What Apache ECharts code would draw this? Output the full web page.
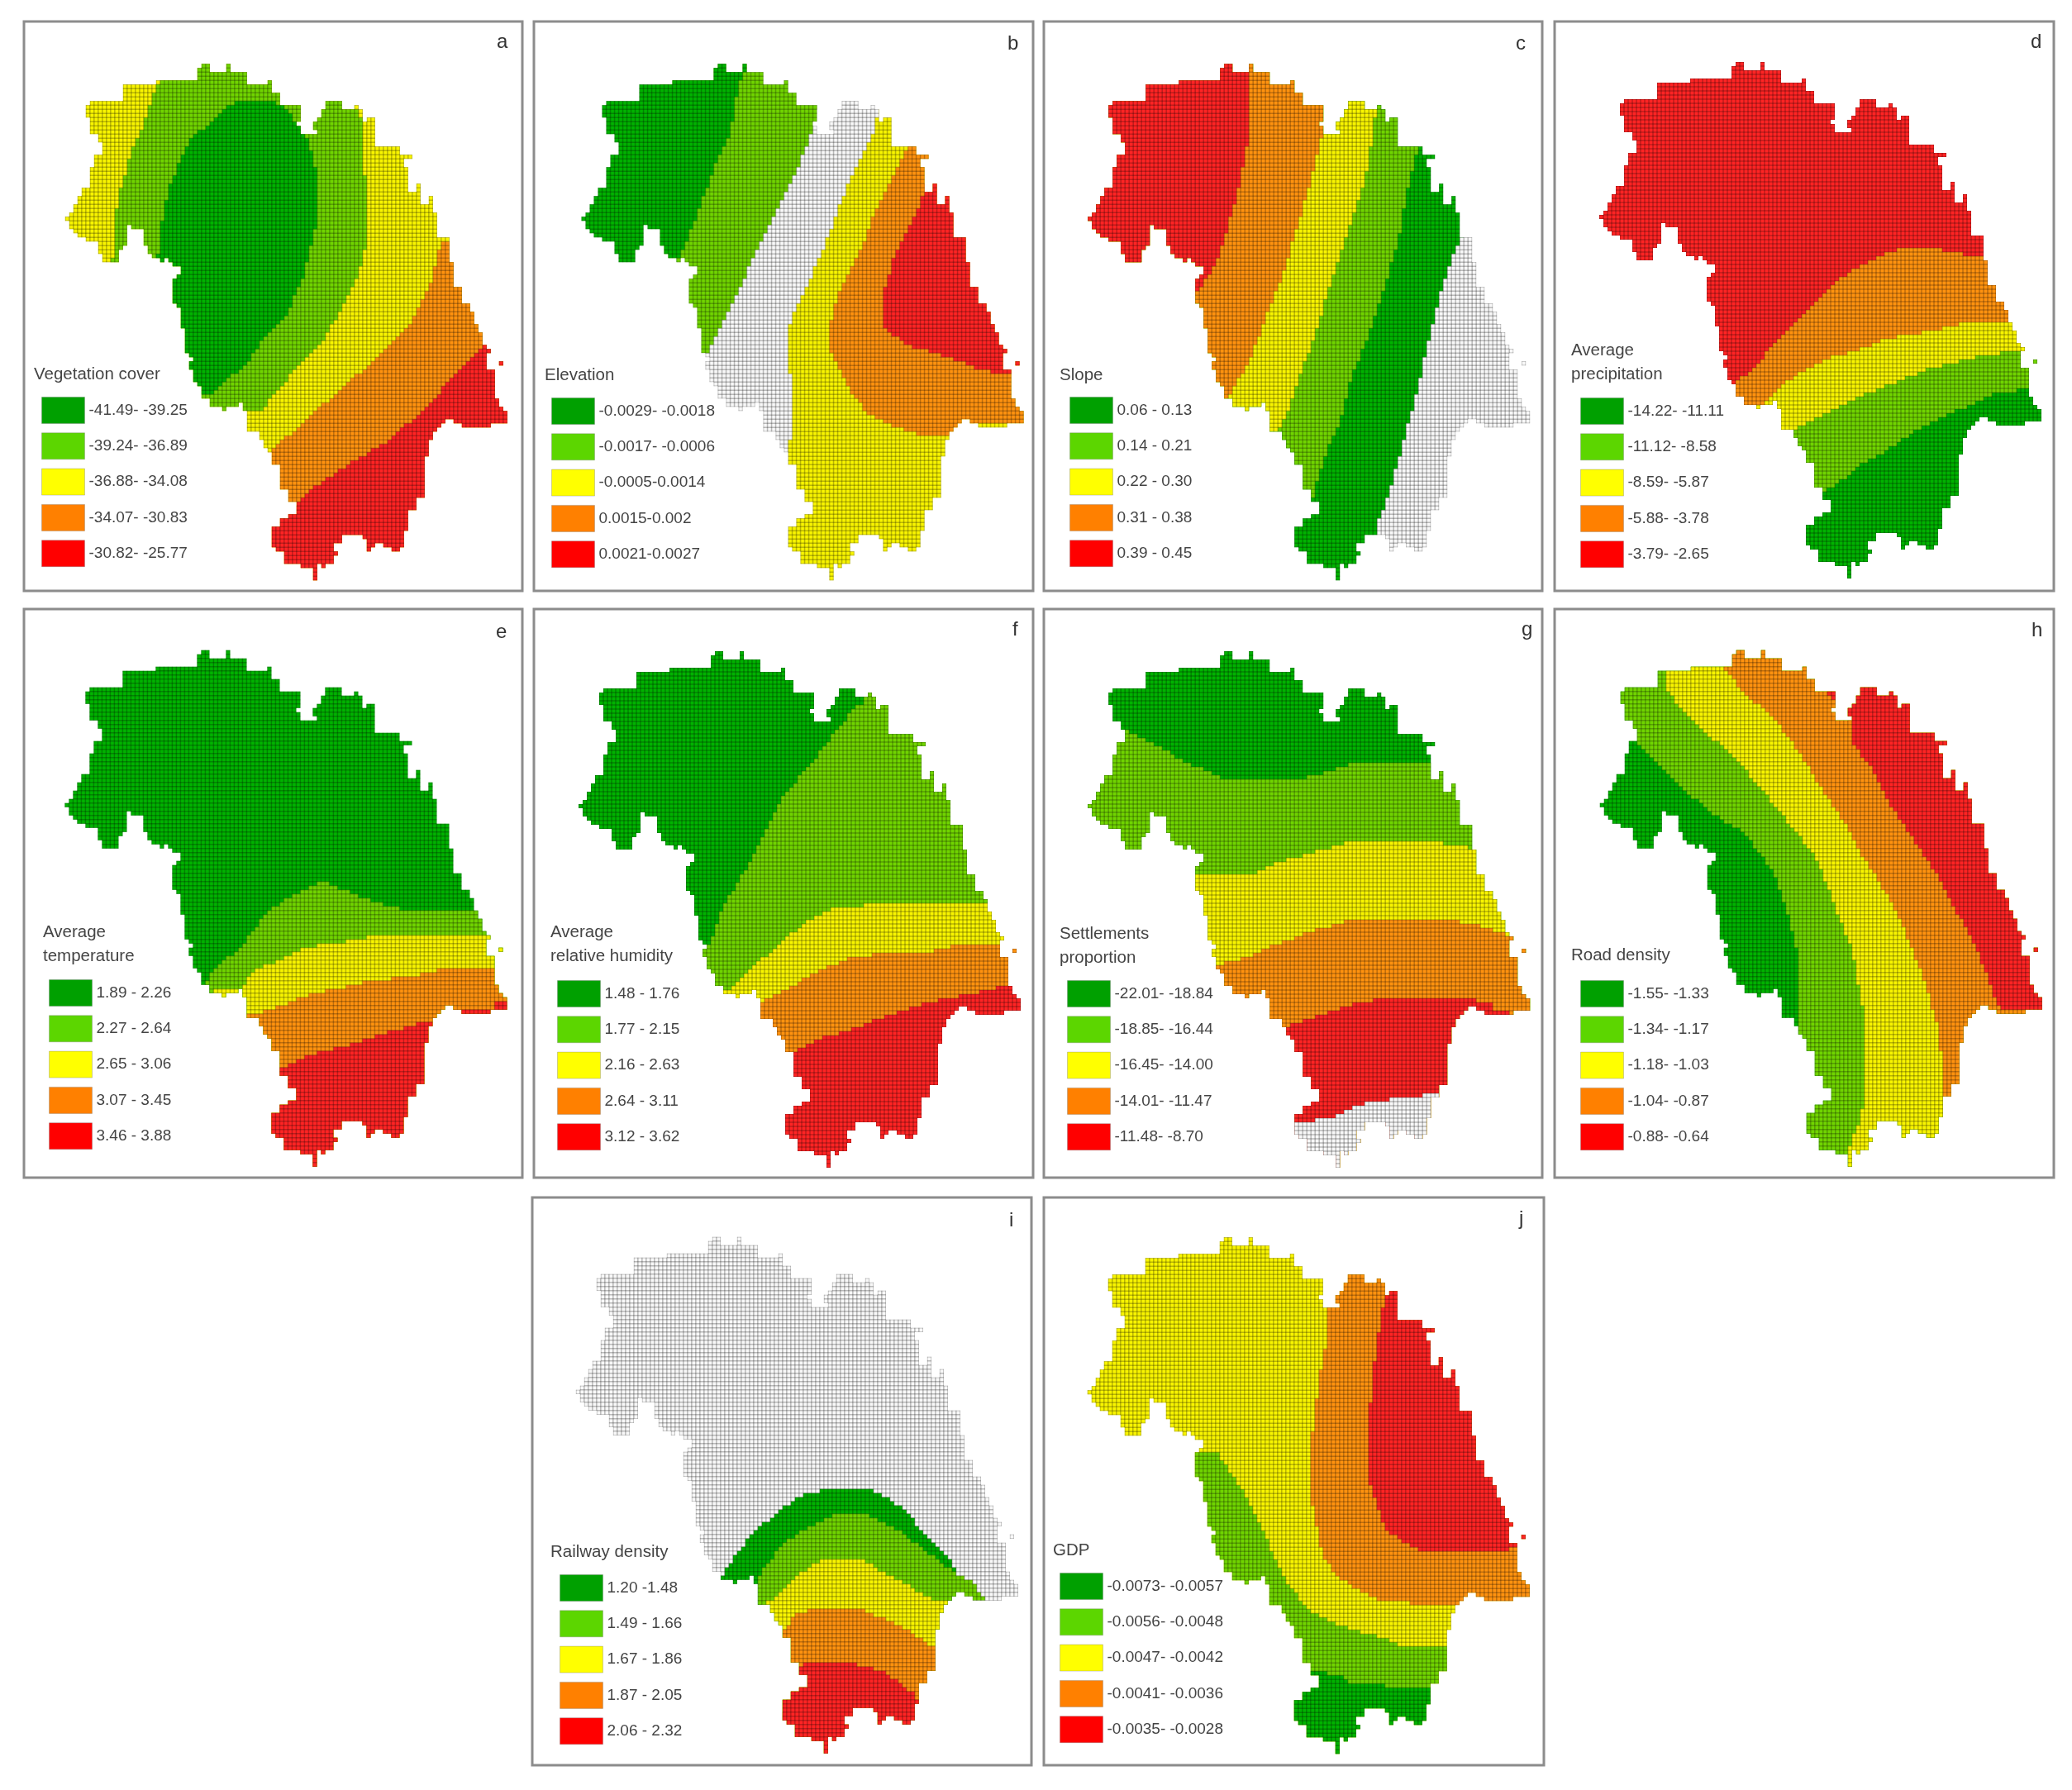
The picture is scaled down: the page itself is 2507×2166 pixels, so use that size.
<!DOCTYPE html>
<html>
<head>
<meta charset="utf-8">
<title>Panels a-j</title>
<style>
  html, body { margin: 0; padding: 0; background: #fff; }
  #chart { width: 2507px; height: 2166px; filter: blur(0.7px); }
</style>
<script src="https://cdn.jsdelivr.net/npm/echarts@6/dist/echarts.min.js"></script>
</head>
<body>
<div id="chart"></div>
<script>
// class order is the legend order: dark green .. red, then the grey "no label" class
const CLASS_COLORS = ["#00a000", "#5cd600", "#ffff00", "#ff8000", "#ff0000", "#f8f8f8"];
// cell fill on the map itself, before the cell lines darken it
const MAP_FILLS = ["#00b200", "#70d400", "#f8f400", "#ff920f", "#ff2424", "#f8f8f8"];
const GREY = 5;

const PANEL_LETTERS = ["a", "b", "c", "d", "e", "f", "g", "h", "i", "j"];
const PANEL_TITLES = [
  "Vegetation cover", "Elevation", "Slope", "Average\nprecipitation", "Average\ntemperature",
  "Average\nrelative humidity", "Settlements\nproportion", "Road density", "Railway density", "GDP"
];
const LEGEND_LABELS = [
  ["-41.49- -39.25", "-39.24- -36.89", "-36.88- -34.08", "-34.07- -30.83", "-30.82- -25.77"],
  ["-0.0029- -0.0018", "-0.0017- -0.0006", "-0.0005-0.0014", "0.0015-0.002", "0.0021-0.0027"],
  ["0.06 - 0.13", "0.14 - 0.21", "0.22 - 0.30", "0.31 - 0.38", "0.39 - 0.45"],
  ["-14.22- -11.11", "-11.12- -8.58", "-8.59- -5.87", "-5.88- -3.78", "-3.79- -2.65"],
  ["1.89 - 2.26", "2.27 - 2.64", "2.65 - 3.06", "3.07 - 3.45", "3.46 - 3.88"],
  ["1.48 - 1.76", "1.77 - 2.15", "2.16 - 2.63", "2.64 - 3.11", "3.12 - 3.62"],
  ["-22.01- -18.84", "-18.85- -16.44", "-16.45- -14.00", "-14.01- -11.47", "-11.48- -8.70"],
  ["-1.55- -1.33", "-1.34- -1.17", "-1.18- -1.03", "-1.04- -0.87", "-0.88- -0.64"],
  ["1.20 -1.48", "1.49 - 1.66", "1.67 - 1.86", "1.87 - 2.05", "2.06 - 2.32"],
  ["-0.0073- -0.0057", "-0.0056- -0.0048", "-0.0047- -0.0042", "-0.0041- -0.0036", "-0.0035- -0.0028"]
];

// map boundary; map units are 1568 across the crop of each panel
const MAP_OUTLINE = [
  [147,543],[160,528],[172,510],[185,490],[197,462],[225,450],[228,420],[240,375],[265,375],[265,350],[250,320],[228,318],
  [222,275],[210,270],[213,245],[228,232],[330,232],[330,187],[435,187],[435,175],[553,175],[553,145],[567,130],[595,130],
  [595,157],[642,157],[642,130],[660,130],[660,157],[712,157],[712,185],[775,185],[775,172],[790,172],[790,215],[815,215],
  [815,243],[868,243],[868,290],[858,290],[858,300],[872,318],[920,318],[920,305],[907,305],[907,290],[925,275],[937,262],
  [948,262],[935,250],[945,232],[1000,232],[1000,258],[1040,258],[1040,245],[1052,245],[1052,258],[1065,262],[1065,290],
  [1078,290],[1078,275],[1105,275],[1105,348],[1170,348],[1170,375],[1210,375],[1210,390],[1185,390],[1185,405],[1198,405],
  [1198,478],[1225,478],[1225,450],[1237,450],[1237,508],[1262,508],[1262,490],[1277,490],[1277,535],[1290,535],[1290,595],
  [1315,595],[1328,608],[1328,665],[1340,665],[1340,725],[1367,725],[1367,768],[1393,768],[1393,800],[1405,800],[1405,828],
  [1420,850],[1433,855],[1433,880],[1447,885],[1447,897],[1458,897],[1458,910],
  // the single detached cell, joined by a zero-width bridge
  [1480,910],[1480,928],[1475,928],[1475,943],[1487,943],[1487,928],[1480,928],[1480,910],[1458,910],
  [1445,915],[1445,955],[1472,955],[1472,1030],[1485,1050],[1500,1060],[1500,1088],[1460,1090],[1460,1103],[1367,1103],
  [1367,1090],[1345,1078],[1328,1078],[1315,1090],[1290,1118],[1265,1145],[1265,1178],[1238,1195],[1250,1205],[1250,1290],
  [1225,1290],[1225,1320],[1197,1320],[1197,1380],[1185,1380],[1185,1420],[1170,1420],[1170,1435],[1157,1435],[1157,1452],
  [1145,1452],[1145,1425],[1130,1410],[1105,1410],[1105,1425],[1090,1425],[1090,1440],[1078,1440],[1078,1410],[1065,1395],
  [1000,1395],[1000,1408],[975,1408],[975,1438],[987,1440],[987,1452],[975,1455],[975,1468],[948,1468],[948,1482],[935,1482],
  [935,1470],[922,1470],[922,1512],[908,1512],[908,1482],[870,1482],[870,1468],[817,1468],[817,1438],[800,1425],[790,1410],
  [790,1365],[815,1365],[815,1352],[830,1340],[855,1320],[855,1305],[830,1290],[830,1275],[815,1275],[805,1245],[805,1200],
  [778,1200],[778,1175],[765,1150],[750,1118],[712,1118],[712,1060],[698,1060],[698,1035],[685,1045],[648,1045],[648,1060],
  [632,1060],[632,1045],[595,1045],[595,1030],[568,1030],[568,1000],[553,988],[542,988],[542,945],[528,942],[528,930],[540,928],
  [528,905],[517,905],[517,840],[503,840],[503,782],[490,782],[490,768],[477,768],[477,712],[490,700],[500,695],[500,672],
  [478,668],[462,668],[462,655],[448,665],[448,655],[435,650],[410,625],[395,610],[395,578],[355,578],[355,565],[345,568],
  [345,605],[330,632],[318,640],[318,665],[267,665],[267,640],[253,632],[253,608],[213,608],[213,595],[187,595],[187,582],
  [172,570],[160,558]
];

const WHOLE_MAP = [[0,0],[1568,0],[1568,1568],[0,1568]];

// zones of each panel, painted in order, each one trimmed to the map boundary
const ZONES_A = [
  [2, WHOLE_MAP],
  [1, [[445,100],[445,180],[415,240],[385,300],[350,380],[315,490],[300,560],[300,640],[290,680],[400,800],[600,1100],[698,1070],[745,1060],[860,945],[930,880],[1010,770],[1050,690],[1075,610],[1078,500],[1065,370],[1060,290],[1040,240],[1040,100]]],
  [0, [[685,235],[775,235],[815,255],[860,300],[890,345],[905,400],[918,450],[918,570],[900,640],[885,700],[860,750],[830,810],[760,880],[710,940],[640,990],[605,1025],[570,1025],[500,1000],[450,800],[430,650],[435,620],[440,580],[450,520],[470,470],[490,410],[530,340],[585,290],[645,250]]],
  [3, [[760,1190],[900,1075],[1000,1000],[1100,925],[1200,830],[1265,730],[1300,615],[1400,600],[1568,800],[1568,1568],[760,1568]]],
  [4, [[700,1320],[840,1320],[900,1280],[1010,1205],[1130,1140],[1250,1055],[1340,965],[1432,890],[1568,880],[1568,1568],[700,1568]]]
];
const ZONES_B = [
  [GREY, WHOLE_MAP],
  [1, [[670,0],[900,0],[900,250],[868,310],[835,400],[780,490],[745,555],[710,620],[670,700],[630,770],[580,850],[552,905],[500,905],[400,700],[400,0]]],
  [0, [[670,0],[670,160],[655,165],[645,200],[610,330],[565,430],[530,510],[490,600],[458,640],[450,665],[400,700],[0,700],[0,0]]],
  [2, [[1075,260],[1040,350],[1000,430],[950,540],[905,620],[865,700],[830,770],[800,820],[790,860],[790,950],[802,1000],[802,1135],[788,1150],[788,1568],[1568,1568],[1568,260]]],
  [3, [[1158,340],[1158,355],[1130,400],[1105,460],[1060,540],[1030,600],[985,690],[945,770],[930,800],[920,850],[920,900],[945,960],[990,1030],[1030,1075],[1120,1110],[1200,1135],[1300,1135],[1360,1100],[1568,1100],[1568,340]]],
  [4, [[1225,440],[1212,485],[1195,510],[1150,600],[1115,680],[1100,720],[1090,760],[1090,840],[1150,885],[1230,905],[1310,930],[1380,950],[1450,965],[1568,965],[1568,440]]]
];
const ZONES_C = [
  [GREY, WHOLE_MAP],
  [0, [[1300,0],[1300,590],[1280,630],[1250,700],[1230,770],[1205,860],[1180,950],[1150,1050],[1130,1120],[1105,1210],[1080,1290],[1045,1370],[1040,1395],[1000,1568],[0,1568],[0,0]]],
  [1, [[1175,0],[1175,350],[1155,400],[1130,490],[1110,570],[1085,660],[1050,770],[1010,870],[970,980],[930,1100],[890,1180],[850,1270],[845,1300],[700,1300],[0,1300],[0,0]]],
  [2, [[1040,0],[1040,260],[1030,310],[1010,400],[985,490],[955,590],[930,660],[890,760],[850,870],[810,960],[770,1050],[735,1115],[720,1120],[600,1200],[0,1200],[0,0]]],
  [3, [[870,0],[870,250],[873,320],[855,400],[830,490],[790,600],[750,710],[700,820],[660,910],[625,980],[585,1030],[560,1060],[0,1060],[0,0]]],
  [4, [[640,0],[650,200],[648,340],[625,450],[600,540],[555,640],[520,710],[490,750],[478,760],[300,760],[0,760],[0,0]]]
];
const ZONES_D = [
  [4, WHOLE_MAP],
  [3, [[500,995],[555,995],[620,950],[680,880],[720,845],[780,790],[860,730],[920,680],[1000,650],[1080,625],[1170,625],[1220,640],[1300,650],[1340,665],[1568,665],[1568,1568],[500,1568]]],
  [2, [[600,1060],[650,1045],[690,1000],[760,960],[830,930],[920,900],[1020,875],[1160,845],[1270,830],[1400,825],[1410,810],[1568,810],[1568,1568],[600,1568]]],
  [1, [[700,1120],[750,1118],[840,1070],[930,1030],[1040,990],[1160,950],[1260,925],[1400,905],[1455,900],[1568,895],[1568,1568],[700,1568]]],
  [0, [[700,1280],[820,1280],[860,1265],[940,1220],[1030,1170],[1140,1105],[1250,1060],[1370,1015],[1472,1000],[1568,995],[1568,1568],[700,1568]]]
];
const ZONES_E = [
  [0, WHOLE_MAP],
  [1, [[500,1020],[565,1020],[620,970],[690,910],[760,840],[820,790],[870,765],[930,750],[1000,765],[1100,800],[1200,822],[1400,825],[1568,825],[1568,1568],[500,1568]]],
  [2, [[600,1040],[685,1030],[730,985],[800,955],[870,925],[940,910],[1060,905],[1070,895],[1250,895],[1568,895],[1568,1568],[600,1568]]],
  [3, [[650,1110],[735,1105],[800,1075],[860,1055],[970,1030],[1080,1015],[1200,1000],[1310,985],[1568,985],[1568,1568],[650,1568]]],
  [4, [[700,1250],[815,1240],[880,1215],[1000,1190],[1110,1155],[1200,1130],[1290,1110],[1340,1090],[1450,1088],[1465,1072],[1568,1072],[1568,1568],[700,1568]]]
];
const ZONES_F = [
  [0, WHOLE_MAP],
  [1, [[1030,100],[1568,100],[1568,1568],[500,1568],[500,925],[540,920],[565,870],[600,810],[660,720],[720,610],[790,510],[860,430],[930,345],[1000,280],[1030,260]]],
  [2, [[590,1568],[590,1035],[620,1022],[680,975],[760,920],[850,850],[940,815],[1100,810],[1568,810],[1568,1568]]],
  [3, [[650,1080],[705,1075],[750,1045],[820,1020],[880,985],[980,955],[1100,940],[1200,935],[1320,920],[1568,915],[1568,1568],[650,1568]]],
  [4, [[700,1205],[805,1205],[870,1175],[960,1145],[1100,1105],[1220,1075],[1340,1045],[1440,1030],[1568,1030],[1568,1568],[700,1568]]]
];
const ZONES_G = [
  [0, WHOLE_MAP],
  [1, [[0,345],[255,345],[290,350],[345,380],[410,410],[480,440],[570,480],[800,480],[890,450],[960,435],[1200,435],[1568,435],[1568,1568],[0,1568]]],
  [2, [[400,725],[660,725],[730,695],[830,670],[950,640],[1200,635],[1280,655],[1340,665],[1568,665],[1568,1568],[400,1568]]],
  [3, [[500,970],[545,970],[640,945],[730,915],[830,885],[950,855],[1030,845],[1250,845],[1330,860],[1440,890],[1568,895],[1568,1568],[500,1568]]],
  [4, [[700,1135],[755,1135],[860,1105],[980,1075],[1060,1060],[1330,1060],[1350,1072],[1390,1072],[1395,1090],[1450,1090],[1460,1200],[1460,1568],[700,1568]]],
  [GREY, [[700,1395],[790,1395],[900,1375],[960,1350],[1100,1320],[1225,1310],[1568,1300],[1568,1568],[700,1568]]]
];
const ZONES_H = [
  [0, WHOLE_MAP],
  [1, [[0,0],[1568,0],[1568,1568],[755,1568],[755,1130],[755,950],[740,850],[680,720],[590,620],[500,560],[400,480],[330,425],[265,375],[0,375]]],
  [2, [[360,0],[1568,0],[1568,1568],[910,1568],[910,1470],[925,1430],[945,1380],[965,1320],[965,1110],[950,1050],[920,930],[880,810],[820,690],[750,600],[650,490],[560,410],[470,340],[390,270],[360,225]]],
  [3, [[530,0],[1568,0],[1568,1568],[1200,1568],[1200,1250],[1185,1150],[1175,1100],[1140,990],[1090,880],[1030,770],[960,680],[900,580],[830,480],[760,400],[680,310],[600,235],[530,170]]],
  [4, [[855,0],[1568,0],[1568,1090],[1385,1090],[1360,1030],[1320,950],[1260,840],[1180,720],[1100,620],[1030,520],[980,430],[930,370],[925,320],[875,265],[855,240]]]
];
const ZONES_I = [
  [GREY, WHOLE_MAP],
  [0, [[590,1568],[590,1035],[640,970],[690,915],[745,870],[820,825],[900,795],[1030,795],[1095,825],[1150,870],[1210,925],[1280,990],[1310,1020],[1310,1568]]],
  [1, [[690,1568],[695,1035],[730,1000],[760,955],[830,915],[880,885],[930,868],[1020,868],[1080,885],[1130,915],[1200,965],[1250,990],[1310,1030],[1345,1045],[1390,1097],[1350,1097],[1320,1568]]],
  [2, [[700,1568],[710,1110],[760,1070],[820,1030],[890,985],[1020,985],[1060,1010],[1130,1040],[1200,1085],[1290,1105],[1320,1105],[1320,1568]]],
  [3, [[700,1568],[770,1170],[820,1130],[860,1115],[1020,1115],[1070,1145],[1130,1165],[1210,1210],[1245,1235],[1300,1235],[1300,1568]]],
  [4, [[700,1568],[820,1275],[850,1260],[980,1260],[1030,1275],[1075,1290],[1130,1320],[1180,1350],[1190,1380],[1300,1380],[1300,1568]]]
];
const ZONES_J = [
  [2, WHOLE_MAP],
  [3, [[890,0],[1568,0],[1568,1110],[1300,1110],[1150,1110],[1145,1095],[1060,1095],[1010,1080],[960,1055],[910,1020],[875,980],[860,920],[848,870],[833,820],[833,680],[847,590],[860,510],[875,430],[885,400],[885,310],[890,200]]],
  [4, [[1075,0],[1568,0],[1568,950],[1450,950],[1430,965],[1190,965],[1130,945],[1070,900],[1040,830],[1018,770],[1018,610],[1030,500],[1045,400],[1055,340],[1065,280],[1075,270]]],
  [1, [[400,705],[545,705],[600,770],[660,850],[710,960],[760,1050],[830,1120],[930,1170],[1000,1185],[1060,1200],[1105,1215],[1253,1215],[1568,1215],[1568,1568],[400,1568]]],
  [0, [[700,1290],[845,1290],[925,1300],[950,1315],[1055,1315],[1060,1330],[1200,1330],[1568,1330],[1568,1568],[700,1568]]]
];
const PANEL_ZONES = [ZONES_A, ZONES_B, ZONES_C, ZONES_D, ZONES_E, ZONES_F, ZONES_G, ZONES_H, ZONES_I, ZONES_J];

// layout, in page pixels
const FRAMES = [
  [29,26,632,715], [646,26,1250,715], [1263,26,1866,715], [1881,26,2485,715],
  [29,737,632,1425], [646,737,1250,1425], [1263,737,1866,1425], [1881,737,2485,1425],
  [644,1449,1248,2136], [1263,1449,1868,2136]
];
const CROPS = [
  [20,15], [640,15], [1255,15], [1875,15], [20,728], [640,728], [1255,728], [1875,728], [640,1440], [1255,1440]
];
const MAP_SHIFT = [[-3,5],[9,5],[3,5],[0,0],[-4,-3],[0,0],[3,0],[2,-3],[-8,-7],[2,-6]];
const LEGEND_AT = [
  [50,480],[667,481],[1294,480],[1912,481],[59,1185],[674,1186],[1291,1186],[1912,1186],[677,1905],[1282,1903]
];
const TITLE_AT = [
  [41,454],[659,455],[1282,455],[1901,425],[52,1129],[666,1129],[1282,1131],[1901,1157],[666,1879],[1274,1877]
];
const LETTER_AT = [
  [601,53],[1219,55],[1834,55],[2457,53],[600,767],[1225,764],[1841,764],[2458,765],[1221,1479],[1838,1477]
];

const SCALE_X = 1568 / 620;
const SCALE_Y = 1568 / 710;
const CELL_W = 5 * SCALE_X;
const CELL_H = 5 * SCALE_Y;
const FONT = '"Liberation Sans", sans-serif';

// snap to raster cells and turn slanted edges into stairs, as the source grid map shows them
function toRaster(points) {
  const cells = points.map(p => [Math.round(p[0] / CELL_W), Math.round(p[1] / CELL_H)]);
  const out = [];
  cells.forEach((c, i) => {
    const prev = cells[(i + cells.length - 1) % cells.length];
    const dx = c[0] - prev[0];
    const dy = c[1] - prev[1];
    const n = Math.max(Math.abs(dx), Math.abs(dy));
    let py = prev[1];
    for (let s = 1; s <= n; s++) {
      const x = Math.round(prev[0] + (dx * s) / n);
      const y = Math.round(prev[1] + (dy * s) / n);
      out.push([x * CELL_W, py * CELL_H]);
      out.push([x * CELL_W, y * CELL_H]);
      py = y;
    }
    if (n === 0) {
      out.push([c[0] * CELL_W, c[1] * CELL_H]);
    }
  });
  return out;
}

const rasterOutline = toRaster(MAP_OUTLINE);

function buildPanelSeries(index) {
  const [shiftX, shiftY] = MAP_SHIFT[index];
  const moved = pts => pts.map(p => [p[0] + shiftX, p[1] + shiftY]);
  const clipOf = api => ({
    type: "polygon",
    shape: { points: moved(rasterOutline).map(p => api.coord(p)) }
  });

  const series = PANEL_ZONES[index].map(([cls, polygon]) => {
    const shape = moved(toRaster(polygon.map(p => [p[0] - shiftX, p[1] - shiftY])));
    return {
      type: "custom",
      name: cls === GREY ? "No label " + PANEL_LETTERS[index] : LEGEND_LABELS[index][cls],
      coordinateSystem: "cartesian2d",
      xAxisIndex: index,
      yAxisIndex: index,
      silent: true,
      itemStyle: { color: CLASS_COLORS[cls] },
      encode: { x: 0, y: 1 },
      data: polygon,
      renderItem(params, api) {
        if (params.dataIndex !== 0) {
          return null;
        }
        return {
          type: "polygon",
          shape: { points: shape.map(p => api.coord(p)) },
          style: { fill: MAP_FILLS[cls] },
          clipPath: clipOf(api)
        };
      }
    };
  });

  // raster cell lines over the zones, one zigzag each way, its turns outside the map
  series.push({
    type: "custom",
    name: "Cells " + PANEL_LETTERS[index],
    coordinateSystem: "cartesian2d",
    xAxisIndex: index,
    yAxisIndex: index,
    silent: true,
    encode: { x: 0, y: 1 },
    data: [[0, 0]],
    renderItem(params, api) {
      const down = [];
      let flip = false;
      for (let k = 8; k < 128; k++) {
        const x = shiftX + k * CELL_W;
        down.push(api.coord([x, flip ? 1560 : 60]), api.coord([x, flip ? 60 : 1560]));
        flip = !flip;
      }
      const across = [];
      flip = false;
      for (let k = 8; k < 144; k++) {
        const y = shiftY + k * CELL_H;
        across.push(api.coord([flip ? 1560 : 60, y]), api.coord([flip ? 60 : 1560, y]));
        flip = !flip;
      }
      const lineStyle = { fill: null, stroke: "rgba(0,0,0,0.25)", lineWidth: 1.5 };
      return {
        type: "group",
        children: [
          { type: "polyline", shape: { points: down }, style: lineStyle, clipPath: clipOf(api) },
          { type: "polyline", shape: { points: across }, style: lineStyle, clipPath: clipOf(api) }
        ]
      };
    }
  });
  return series;
}

const grid = FRAMES.map(([l, t, r, b]) => ({
  show: true,
  left: l,
  top: t,
  width: r - l,
  height: b - t,
  backgroundColor: "#ffffff",
  borderColor: "#8c8c8c",
  borderWidth: 3
}));

const xAxis = FRAMES.map(([l, , r], i) => ({
  type: "value",
  gridIndex: i,
  show: false,
  min: (l - CROPS[i][0]) * SCALE_X,
  max: (r - CROPS[i][0]) * SCALE_X
}));

const yAxis = FRAMES.map(([, t, , b], i) => ({
  type: "value",
  gridIndex: i,
  show: false,
  inverse: true,
  min: (t - CROPS[i][1]) * SCALE_Y,
  max: (b - CROPS[i][1]) * SCALE_Y
}));

const legend = LEGEND_LABELS.map((labels, i) => ({
  data: labels,
  orient: "vertical",
  left: LEGEND_AT[i][0],
  top: LEGEND_AT[i][1],
  padding: 0,
  icon: "rect",
  itemWidth: 52,
  itemHeight: 32,
  itemGap: 10.3,
  selectedMode: false,
  itemStyle: { borderColor: "rgba(120,120,120,0.35)", borderWidth: 1 },
  textStyle: { fontFamily: FONT, fontSize: 19, color: "#444444" }
}));

const title = [];
PANEL_TITLES.forEach((text, i) => {
  title.push({
    text,
    left: TITLE_AT[i][0],
    top: TITLE_AT[i][1] - 15,
    padding: 0,
    textStyle: { fontFamily: FONT, fontSize: 20.5, fontWeight: "normal", color: "#444444", lineHeight: 29 }
  });
  title.push({
    text: PANEL_LETTERS[i],
    left: LETTER_AT[i][0],
    top: LETTER_AT[i][1] - 14,
    padding: 0,
    textStyle: { fontFamily: FONT, fontSize: 24, fontWeight: "normal", color: "#333333" }
  });
});

const chart = echarts.init(document.getElementById("chart"));
chart.setOption({
  animation: false,
  backgroundColor: "#ffffff",
  title,
  legend,
  grid,
  xAxis,
  yAxis,
  series: PANEL_LETTERS.flatMap((_, i) => buildPanelSeries(i))
});
</script>
</body>
</html>
